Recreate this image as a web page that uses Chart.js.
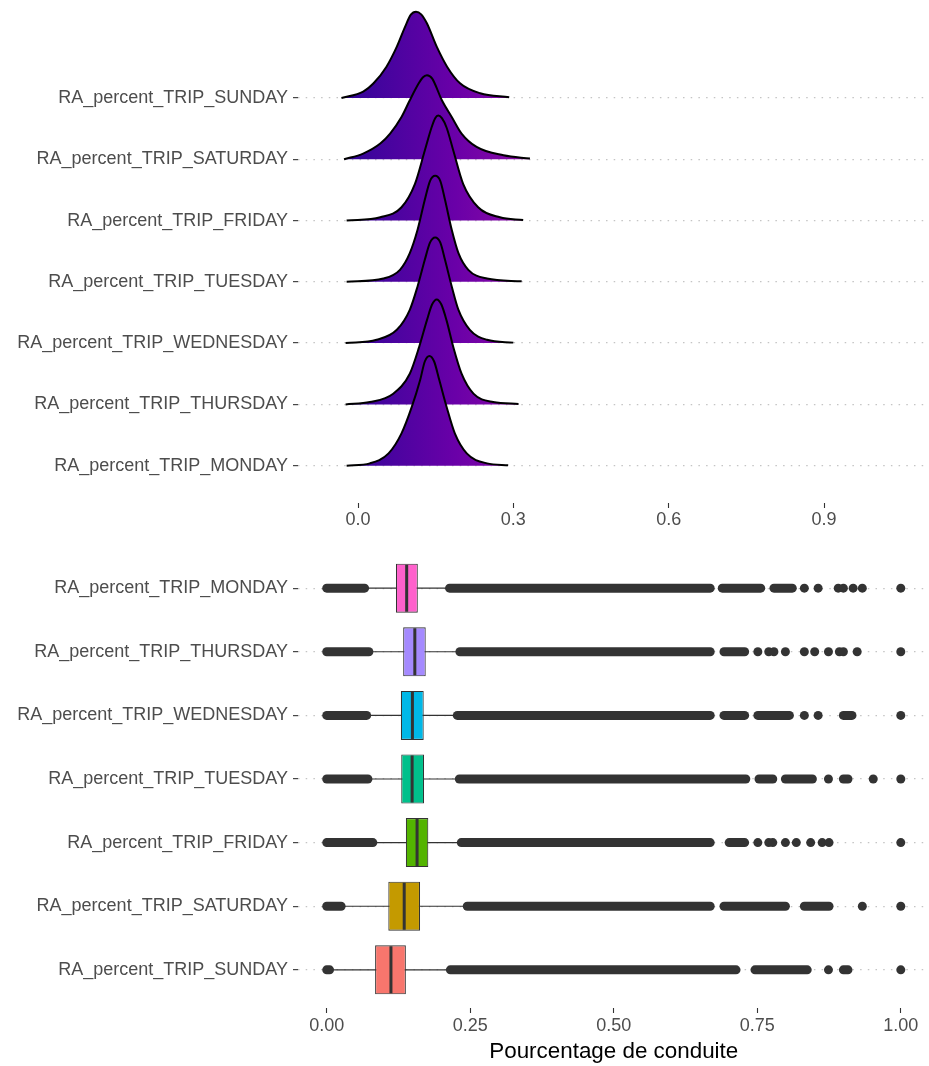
<!DOCTYPE html>
<html>
<head>
<meta charset="utf-8">
<title>RA_percent_TRIP</title>
<script src="https://cdn.jsdelivr.net/npm/chart.js@4.4.0/dist/chart.umd.min.js"></script>
<style>
  html, body { margin: 0; padding: 0; background: #fff; overflow: hidden; }
  canvas { display: block; }
</style>
</head>
<body>
<canvas id="ridgeChart" width="934" height="545"></canvas>
<canvas id="boxChart" width="934" height="521"></canvas>
<script>
// --- Top: density ridges, rows listed bottom to top ---
const ridgeDays = ['RA_percent_TRIP_MONDAY', 'RA_percent_TRIP_THURSDAY', 'RA_percent_TRIP_WEDNESDAY',
    'RA_percent_TRIP_TUESDAY', 'RA_percent_TRIP_FRIDAY', 'RA_percent_TRIP_SATURDAY', 'RA_percent_TRIP_SUNDAY'];
const ridgeTicks = [0, 0.3, 0.6, 0.9];

// [x, density height in row units]
const mondayRidge = [[-0.022, 0], [0.023, 0.038], [0.059, 0.201], [0.084, 0.527], [0.104, 0.963], [0.120, 1.398],
    [0.129, 1.700], [0.138, 1.790], [0.147, 1.700], [0.157, 1.398], [0.171, 0.963], [0.187, 0.527], [0.210, 0.201],
    [0.249, 0.038], [0.290, 0.008]];
const thursdayRidge = [[-0.024, 0], [0.023, 0.038], [0.068, 0.175], [0.100, 0.501], [0.118, 0.935], [0.133, 1.371],
    [0.143, 1.630], [0.152, 1.713], [0.161, 1.630], [0.171, 1.371], [0.184, 0.935], [0.200, 0.501], [0.223, 0.175],
    [0.261, 0.038], [0.310, 0.008]];
const wednesdayRidge = [[-0.024, 0], [0.036, 0.054], [0.075, 0.217], [0.100, 0.543], [0.115, 0.925], [0.129, 1.359],
    [0.139, 1.640], [0.149, 1.725], [0.159, 1.640], [0.168, 1.359], [0.181, 0.925], [0.194, 0.543], [0.216, 0.217],
    [0.249, 0.054], [0.300, 0.008]];
const tuesdayRidge = [[-0.022, 0], [0.049, 0.054], [0.081, 0.196], [0.100, 0.468], [0.115, 0.849], [0.129, 1.338],
    [0.139, 1.645], [0.149, 1.730], [0.159, 1.645], [0.168, 1.338], [0.181, 0.849], [0.194, 0.468], [0.213, 0.196],
    [0.249, 0.054], [0.316, 0.008]];
const fridayRidge = [[-0.022, 0], [0.043, 0.054], [0.084, 0.217], [0.110, 0.599], [0.129, 1.142], [0.142, 1.518],
    [0.149, 1.670], [0.155, 1.713], [0.162, 1.670], [0.171, 1.518], [0.184, 1.142], [0.203, 0.599], [0.232, 0.217],
    [0.274, 0.054], [0.319, 0.008]];
const saturdayRidge = [[-0.027, 0], [0.010, 0.093], [0.043, 0.256], [0.062, 0.419], [0.084, 0.690], [0.100, 0.963],
    [0.117, 1.235], [0.125, 1.335], [0.133, 1.371], [0.143, 1.320], [0.162, 0.963], [0.181, 0.690], [0.200, 0.419],
    [0.229, 0.201], [0.281, 0.065], [0.332, 0.011]];
const sundayRidge = [[-0.032, 0], [0.010, 0.103], [0.030, 0.240], [0.055, 0.511], [0.075, 0.837], [0.091, 1.164],
    [0.102, 1.360], [0.112, 1.408], [0.122, 1.365], [0.133, 1.219], [0.152, 0.837], [0.172, 0.511], [0.197, 0.240],
    [0.236, 0.077], [0.292, 0.011]];

// --- Bottom: box plots, rows listed top to bottom ---
const boxDays = ['RA_percent_TRIP_MONDAY', 'RA_percent_TRIP_THURSDAY', 'RA_percent_TRIP_WEDNESDAY',
    'RA_percent_TRIP_TUESDAY', 'RA_percent_TRIP_FRIDAY', 'RA_percent_TRIP_SATURDAY', 'RA_percent_TRIP_SUNDAY'];
const boxTicks = [0, 0.25, 0.5, 0.75, 1];
const whiskerLow  = [0.072, 0.078, 0.075, 0.077, 0.086, 0.031, 0.012];
const q1          = [0.1206, 0.1332, 0.1292, 0.1298, 0.1379, 0.1073, 0.0843];
const median      = [0.1393, 0.1535, 0.1493, 0.1488, 0.1574, 0.1350, 0.1119];
const q3          = [0.1587, 0.1725, 0.1690, 0.1696, 0.1770, 0.1626, 0.1379];
const whiskerHigh = [0.209, 0.227, 0.223, 0.226, 0.229, 0.240, 0.210];

// stretches where the outlier dots overlap into a solid band: [from, to]
const outlierRuns = [
    [[0, 0.066], [0.214, 0.668], [0.689, 0.756], [0.779, 0.811]],
    [[0, 0.0735], [0.232, 0.668], [0.692, 0.728]],
    [[0, 0.0696], [0.2275, 0.668], [0.692, 0.728], [0.751, 0.806], [0.900, 0.915]],
    [[0, 0.0718], [0.231, 0.730], [0.753, 0.777], [0.799, 0.846], [0.900, 0.908]],
    [[0, 0.0804], [0.2344, 0.668], [0.701, 0.728]],
    [[0, 0.0251], [0.2448, 0.668], [0.692, 0.799], [0.832, 0.875]],
    [[0, 0.005], [0.2154, 0.713], [0.746, 0.837], [0.900, 0.908]]
];
const outlierDots = [
    [0.832, 0.856, 0.891, 0.900, 0.917, 0.933, 1.0],
    [0.751, 0.770, 0.779, 0.799, 0.832, 0.850, 0.874, 0.893, 0.900, 0.924, 1.0],
    [0.832, 0.856, 1.0],
    [0.874, 0.952, 1.0],
    [0.751, 0.770, 0.777, 0.799, 0.818, 0.843, 0.863, 0.875, 1.0],
    [0.933, 1.0],
    [0.874, 1.0]
];

const boxColors = ['#FF61CC', '#A58AFF', '#00B8E7', '#00C08B', '#53B400', '#C49A00', '#F8766D'];
const plasma = ['#0d0887', '#41049d', '#6a00a8', '#8f0da4', '#b12a90', '#cc4778',
    '#e16462', '#f2844b', '#fca636', '#fcce25', '#f0f921'];

Chart.defaults.font.family = "'Liberation Sans', Arial, sans-serif";
Chart.defaults.font.size = 18;
Chart.defaults.color = '#4d4d4d';

const dotGrid = { color: '#c4c4c4', lineWidth: 1.3, tickLength: 5, tickColor: '#333333', tickWidth: 1.1 };
const tickOnly = { drawOnChartArea: false, tickLength: 5, tickColor: '#333333', tickWidth: 1.1 };

// keep Chart.js from reserving room for half-labels at the axis ends
function fixWidth(w) {
    return s => { s.width = w; s.paddingTop = 0; s.paddingBottom = 0; };
}
function fixHeight(h) {
    return s => { s.height = h; s.paddingLeft = 0; s.paddingRight = 0; };
}

function ridgeFill(ctx) {
    const chart = ctx.chart;
    if (!chart.chartArea) return '#5c01a6';
    const xs = chart.scales.x;
    const g = chart.ctx.createLinearGradient(xs.getPixelForValue(-0.124), 0, xs.getPixelForValue(1.44), 0);
    plasma.forEach((c, i) => g.addColorStop(i / (plasma.length - 1), c));
    return g;
}

// --- Ridge chart ---
const ridges = [mondayRidge, thursdayRidge, wednesdayRidge, tuesdayRidge, fridayRidge, saturdayRidge, sundayRidge];
const ridgeDatasets = ridges.map((pts, row) => ({
    label: ridgeDays[row],
    data: pts.map(([x, h]) => ({ x: x, y: row + h })),
    fill: { value: row },
    backgroundColor: ridgeFill,
    borderColor: '#000000',
    borderWidth: 2,
    pointRadius: 0,
    cubicInterpolationMode: 'monotone',
    order: row
}));

new Chart(document.getElementById('ridgeChart'), {
    type: 'line',
    data: { datasets: ridgeDatasets },
    options: {
        responsive: false,
        animation: false,
        layout: { padding: 0 },
        plugins: { legend: { display: false }, tooltip: { enabled: false } },
        scales: {
            x: {
                type: 'linear', min: -0.1159, max: 1.1124,
                afterBuildTicks: s => { s.ticks = ridgeTicks.map(v => ({ value: v })); },
                afterFit: fixHeight(42),
                grid: tickOnly,
                border: { display: false },
                ticks: { padding: 1, maxRotation: 0, autoSkip: false, callback: v => v.toFixed(1) }
            },
            y: {
                type: 'linear', min: -0.609, max: 7.599,
                afterBuildTicks: s => { s.ticks = ridgeDays.map((d, i) => ({ value: i })); },
                afterFit: fixWidth(298),
                grid: dotGrid,
                border: { display: false, dash: [1.5, 6.2] },
                ticks: { padding: 5, autoSkip: false, callback: v => ridgeDays[v] }
            }
        }
    }
});

// --- Box plot chart ---
const boxDatasets = [];

boxDays.forEach((d, i) => boxDatasets.push({
    type: 'line',
    data: [{ x: whiskerLow[i], y: i }, { x: whiskerHigh[i], y: i }],
    borderColor: '#333333', borderWidth: 1.1, pointRadius: 0, order: 4
}));

boxDatasets.push({
    type: 'bar',
    indexAxis: 'y',
    data: boxDays.map((d, i) => ({ x: [q1[i], q3[i]], y: i })),
    backgroundColor: boxColors,
    borderColor: '#333333',
    borderWidth: 1.1,
    borderSkipped: false,
    barPercentage: 0.77,
    categoryPercentage: 1,
    order: 2
});

boxDays.forEach((d, i) => boxDatasets.push({
    type: 'line',
    data: [{ x: median[i], y: i - 0.37 }, { x: median[i], y: i + 0.37 }],
    borderColor: '#333333', borderWidth: 3, pointRadius: 0, order: 1
}));

outlierRuns.forEach((runs, i) => runs.forEach(([a, b]) => boxDatasets.push({
    type: 'line',
    data: [{ x: a, y: i }, { x: b, y: i }],
    borderColor: '#333333', borderWidth: 9, borderCapStyle: 'round', pointRadius: 0, order: 3
})));

boxDatasets.push({
    type: 'scatter',
    data: outlierDots.flatMap((xs, i) => xs.map(x => ({ x: x, y: i }))),
    backgroundColor: '#333333', borderWidth: 0, pointRadius: 4.5, order: 3
});

new Chart(document.getElementById('boxChart'), {
    type: 'bar',
    data: { datasets: boxDatasets },
    options: {
        responsive: false,
        animation: false,
        layout: { padding: { top: 5, left: 0, right: 0, bottom: 0 } },
        plugins: { legend: { display: false }, tooltip: { enabled: false } },
        scales: {
            x: {
                type: 'linear', min: -0.05, max: 1.05, offset: false, beginAtZero: false,
                afterBuildTicks: s => { s.ticks = boxTicks.map(v => ({ value: v })); },
                afterFit: fixHeight(58),
                grid: Object.assign({ offset: false }, tickOnly),
                border: { display: false },
                ticks: { padding: 2, maxRotation: 0, autoSkip: false, callback: v => v.toFixed(2) },
                title: {
                    display: true, text: 'Pourcentage de conduite', color: '#000000',
                    font: { size: 22.4 }, padding: { top: 0, bottom: 0.5 }
                }
            },
            y: {
                type: 'linear', reverse: true, min: -0.6, max: 6.6, offset: false, beginAtZero: false,
                afterBuildTicks: s => { s.ticks = boxDays.map((d, i) => ({ value: i })); },
                afterFit: fixWidth(298),
                grid: Object.assign({ offset: false }, dotGrid),
                border: { display: false, dash: [1.5, 6.2] },
                ticks: { padding: 5, autoSkip: false, callback: v => boxDays[v] }
            }
        }
    }
});
</script>
</body>
</html>
